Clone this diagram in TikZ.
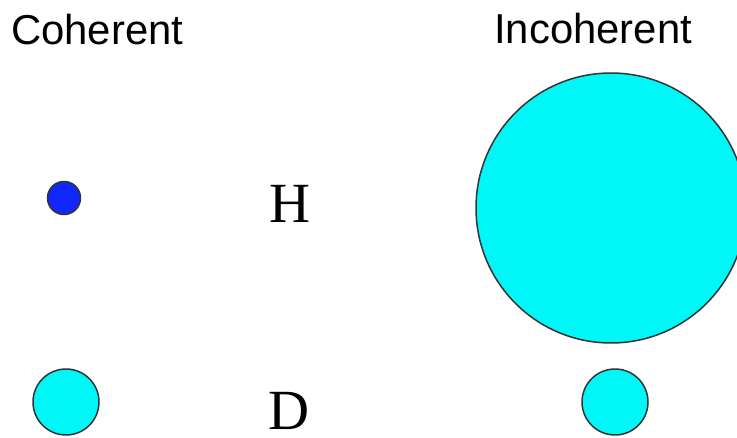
\documentclass[tikz,border=0pt]{standalone}
\usepackage{fontspec}
\setmainfont{Liberation Serif}
\newfontfamily\labelfont{Liberation Sans}
\definecolor{spincyan}{RGB}{0,247,247}
\definecolor{spinblue}{RGB}{16,40,255}
\begin{document}
\begin{tikzpicture}[x=1bp,y=-1bp,line join=round,line cap=round,
    dot/.style={draw=black!80,line width=1.5pt},
    head/.style={inner sep=0pt,font=\labelfont\fontsize{42}{48}\selectfont},
    nucl/.style={inner sep=0pt,anchor=base,font=\fontsize{57}{64}\selectfont}]

  \clip (0,0) rectangle (737,438);
  \useasboundingbox (0,0) rectangle (737,438);

  % ---- titoli delle colonne ------------------------------------------------
  \node[head,anchor=base west] (coh) at (11,45) {Coherent};
  \node[head,anchor=base west] (incoh) at (494,44) {Incoherent};

  % ---- nuclei ----------------------------------------------------------------
  \node[nucl] (hyd) at (290,223) {H};
  \node[nucl] (deu) at (289,429) {D};

  % ---- sezioni d'urto --------------------------------------------------------
  \draw[dot,fill=spinblue] (64,198) circle (16.5);
  \draw[dot,fill=spincyan] (611,208) circle (135);
  \draw[dot,fill=spincyan] (66,402) circle (33);
  \draw[dot,fill=spincyan] (615,402) circle (33);

\end{tikzpicture}
\end{document}
